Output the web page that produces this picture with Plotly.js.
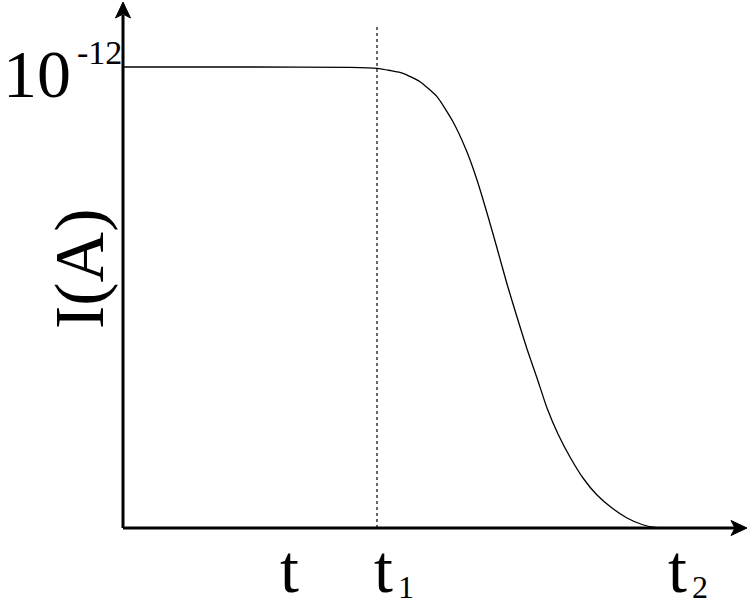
<!DOCTYPE html>
<html>
<head>
<meta charset="utf-8">
<script src="https://cdn.plot.ly/plotly-3.0.1.min.js"></script>
<style>html,body{margin:0;padding:0;background:#fff;}#chart{width:748px;height:600px;}</style>
</head>
<body>
<div id="chart"></div>
<script>
// Schematic current vs time (arbitrary units)
const timeVals = [0, 127, 227, 254, 267, 280, 297, 314, 330, 344, 354, 364, 374, 384, 394, 404, 414, 424, 435, 447, 460, 474, 489, 504, 519, 532, 539];
const currentVals = [461, 461, 460.7, 459.7, 457.5, 454.7, 446.3, 431.3, 406.3, 376, 348, 315, 280, 244, 211, 179, 150, 120, 94, 71, 50, 33, 20, 10, 3.5, 0.5, 0];
const xTickVals = [166, 254, 548];
const xTickMain = ["t", "t", "t"];
const xTickSub = ["", "1", "2"];
const yTickVal = 461;
const yTickMain = "10";
const yTickSup = "-12";
const yTitle = "I(A)";
const markerTime = 254;

const FONT = "'Liberation Serif', 'Times New Roman', serif";
const BIG = 68;

const annotations = [];
// x tick labels
xTickVals.forEach((v, i) => {
  const hasSub = xTickSub[i] !== "";
  annotations.push({x: v + (hasSub ? 6 : 0), y: -41, xref: 'x', yref: 'y', text: xTickMain[i],
    showarrow: false, xanchor: 'center', yanchor: 'middle',
    font: {family: FONT, size: BIG, color: '#000'}});
  if (hasSub) {
    annotations.push({x: v + 18.5, y: -59, xref: 'x', yref: 'y', text: xTickSub[i],
      showarrow: false, xanchor: 'left', yanchor: 'middle',
      font: {family: FONT, size: 32, color: '#000'}});
  }
});
// y tick label
annotations.push({x: -50, y: yTickVal - 7, xref: 'x', yref: 'y', text: yTickMain, showarrow: false,
  xanchor: 'right', yanchor: 'middle', font: {family: FONT, size: BIG, color: '#000'}});
annotations.push({x: -48, y: yTickVal + 15, xref: 'x', yref: 'y', text: yTickSup, showarrow: false,
  xanchor: 'left', yanchor: 'middle', font: {family: FONT, size: 34, color: '#000'}});
// y title
annotations.push({x: -44, y: 259, xref: 'x', yref: 'y', text: yTitle, showarrow: false, textangle: -90,
  xanchor: 'center', yanchor: 'middle', font: {family: FONT, size: 70, color: '#000'}});

const shapes = [
  // axes lines
  {type: 'line', xref: 'x', yref: 'y', x0: 0, y0: 0, x1: 612, y1: 0, line: {color: '#000', width: 3}},
  {type: 'line', xref: 'x', yref: 'y', x0: 0, y0: 0, x1: 0, y1: 513, line: {color: '#000', width: 3}},
  // arrow heads
  {type: 'path', xref: 'x', yref: 'y', path: 'M624,0 L608,7.5 L612,0 L608,-7.5 Z', fillcolor: '#000', line: {color: '#000', width: 1}},
  {type: 'path', xref: 'x', yref: 'y', path: 'M0,526 L-7.5,510 L0,514 L7.5,510 Z', fillcolor: '#000', line: {color: '#000', width: 1}},
  // dotted marker at t1
  {type: 'line', xref: 'x', yref: 'y', x0: markerTime, x1: markerTime, y0: 0, y1: 503, line: {color: '#000', width: 1.2, dash: 'dot'}}
];

const trace = {x: timeVals, y: currentVals, mode: 'lines', type: 'scatter',
  line: {color: '#000', width: 1.3, shape: 'spline', smoothing: 0.5}, hoverinfo: 'skip'};

const axisCommon = {showgrid: false, zeroline: false, showticklabels: false, showline: false, ticks: '', fixedrange: true};
const layout = {
  width: 748, height: 600,
  margin: {l: 0, r: 0, t: 0, b: 0, pad: 0},
  paper_bgcolor: '#fff', plot_bgcolor: '#fff',
  showlegend: false,
  xaxis: Object.assign({range: [-123, 625]}, axisCommon),
  yaxis: Object.assign({range: [-72, 528]}, axisCommon),
  shapes: shapes,
  annotations: annotations
};
Plotly.newPlot('chart', [trace], layout, {displayModeBar: false, staticPlot: true});
</script>
</body>
</html>
